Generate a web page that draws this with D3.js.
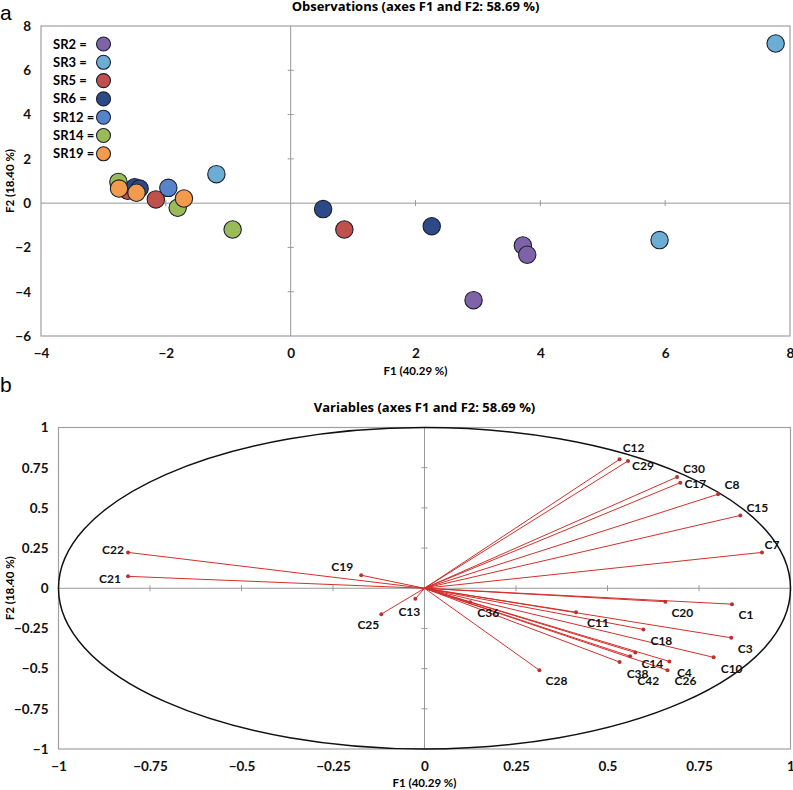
<!DOCTYPE html>
<html>
<head>
<meta charset="utf-8">
<script src="https://cdn.jsdelivr.net/npm/d3@7"></script>
<style>
  body { margin: 0; background: #fff; }
  text { font-family: Lato, "Open Sans", sans-serif; }
</style>
</head>
<body>
<div id="chart"></div>
<script>
// observations (panel a)
var groups = ["SR2", "SR3", "SR5", "SR6", "SR12", "SR14", "SR19"];
var groupColors = ["#7e63a8", "#6badd3", "#bf504b", "#2b4a87", "#5683c9", "#9bbb59", "#f29b4c"];
var obsGroup = ["SR2", "SR2", "SR2", "SR3", "SR3", "SR3", "SR5", "SR5", "SR5",
                "SR6", "SR6", "SR6", "SR6", "SR12", "SR14", "SR14", "SR14", "SR19", "SR19", "SR19"];
var obsF1 = [3.72, 3.79, 2.93, -1.19, 5.91, 7.77, -2.61, -2.16, 0.86,
             -2.50, -2.42, 0.52, 2.26, -1.96, -2.76, -1.81, -0.93, -2.75, -2.47, -1.71];
var obsF2 = [-1.91, -2.33, -4.38, 1.31, -1.67, 7.21, 0.56, 0.17, -1.19,
             0.72, 0.66, -0.27, -1.04, 0.69, 0.96, -0.21, -1.19, 0.66, 0.47, 0.21];
var obsTicksX = [-4, -2, 0, 2, 4, 6, 8];
var obsTicksY = [-6, -4, -2, 0, 2, 4, 6, 8];

// variables (panel b)
var varNames = ["C12", "C29", "C30", "C17", "C8", "C15", "C7", "C20", "C1", "C11", "C18", "C3", "C10",
                "C14", "C4", "C26", "C38", "C42", "C28", "C36", "C13", "C25", "C19", "C22", "C21"];
var varF1 = [0.533, 0.556, 0.690, 0.699, 0.802, 0.863, 0.922, 0.658, 0.840, 0.414, 0.598, 0.838, 0.790,
             0.576, 0.669, 0.664, 0.533, 0.562, 0.314, 0.125, -0.025, -0.118, -0.173, -0.810, -0.810];
var varF2 = [0.802, 0.792, 0.692, 0.657, 0.585, 0.453, 0.223, -0.084, -0.099, -0.149, -0.256, -0.308, -0.430,
             -0.400, -0.455, -0.510, -0.459, -0.423, -0.510, -0.087, -0.066, -0.161, 0.081, 0.223, 0.074];
var varTicks = [-1, -0.75, -0.5, -0.25, 0, 0.25, 0.5, 0.75, 1];

// label placement (pixels from the arrow tip)
var labelDx = [14, 15, 17, 15, 14, 17, 10, 17, 14, 22, 18, 14, 18, 17, 15, 18, 18, 18, 17, 18, -6, -13, -19, -15, -18];
var labelDy = [-12, 5, -8, 1, -9, -8, -8, 11, 11, 11, 11, 11, 11, 11, 11, 11, 12, 25, 11, 11, 13, 11, -8, -3, 2];

var width = 793, height = 790;
var svg = d3.select("#chart").append("svg")
    .attr("width", width)
    .attr("height", height);

var fmt = d3.format("~g");

function drawFrame(x, y, xticks, yticks, tickLen, xLabelY, yLabelX, xTickY, title, titleY, letter, letterY) {
    var g = svg.append("g");
    var x0 = x.range()[0], x1 = x.range()[1];
    var y0 = y.range()[0], y1 = y.range()[1];

    g.append("rect")
        .attr("x", x0).attr("y", y1)
        .attr("width", x1 - x0).attr("height", y0 - y1)
        .attr("fill", "none")
        .attr("stroke", "#a0a0a0")
        .attr("stroke-width", 1.2);

    // zero lines
    g.append("line")
        .attr("x1", x0).attr("x2", x1)
        .attr("y1", y(0)).attr("y2", y(0))
        .attr("stroke", "#999").attr("stroke-width", 1);
    g.append("line")
        .attr("x1", x(0)).attr("x2", x(0))
        .attr("y1", y0).attr("y2", y1)
        .attr("stroke", "#999").attr("stroke-width", 1);

    // small ticks on the zero lines
    g.selectAll(".xt")
        .data(xticks.filter(function(d) { return d != 0 && d != x.domain()[0] && d != x.domain()[1]; }))
        .enter().append("line")
        .attr("x1", function(d) { return x(d); })
        .attr("x2", function(d) { return x(d); })
        .attr("y1", y(0) - tickLen).attr("y2", y(0) + tickLen)
        .attr("stroke", "#999");
    g.selectAll(".yt")
        .data(yticks.filter(function(d) { return d != 0 && d != y.domain()[0] && d != y.domain()[1]; }))
        .enter().append("line")
        .attr("x1", x(0) - tickLen).attr("x2", x(0) + tickLen)
        .attr("y1", function(d) { return y(d); })
        .attr("y2", function(d) { return y(d); })
        .attr("stroke", "#999");

    // tick labels
    var xAxis = d3.axisBottom(x).tickValues(xticks).tickSize(0).tickPadding(0).tickFormat(fmt);
    g.append("g")
        .attr("transform", "translate(0," + xTickY + ")")
        .call(xAxis)
        .call(function(a) { a.select(".domain").remove(); })
        .selectAll("text")
        .attr("dy", "0.35em")
        .style("font-size", "13.5px")
        .style("font-weight", "bold")
        .attr("fill", "#111");

    var yAxis = d3.axisLeft(y).tickValues(yticks).tickSize(0).tickPadding(0).tickFormat(fmt);
    g.append("g")
        .attr("transform", "translate(" + (x0 - 10) + ",0)")
        .call(yAxis)
        .call(function(a) { a.select(".domain").remove(); })
        .selectAll("text")
        .style("font-size", "13.5px")
        .style("font-weight", "bold")
        .attr("fill", "#111");

    // axis titles
    g.append("text")
        .attr("x", (x0 + x1) / 2).attr("y", xLabelY)
        .attr("text-anchor", "middle")
        .style("font-size", "11.5px").style("font-weight", "bold")
        .text("F1 (40.29 %)");
    g.append("text")
        .attr("transform", "translate(" + yLabelX + "," + ((y0 + y1) / 2) + ") rotate(-90)")
        .attr("text-anchor", "middle")
        .style("font-size", "11.5px").style("font-weight", "bold")
        .text("F2 (18.40 %)");

    g.append("text")
        .attr("x", (x0 + x1) / 2).attr("y", titleY)
        .attr("text-anchor", "middle")
        .style("font-family", "'Open Sans', Lato, sans-serif")
        .style("font-size", "13px").style("font-weight", "bold")
        .text(title);

    g.append("text")
        .attr("x", 0).attr("y", letterY)
        .style("font-family", "'Liberation Sans', Arial, sans-serif")
        .style("font-size", "21px")
        .text(letter);
    return g;
}

// ---- panel a ----
var xA = d3.scaleLinear().domain([-4, 8]).range([41, 790]);
var yA = d3.scaleLinear().domain([-6, 8]).range([336, 26]);
var color = d3.scaleOrdinal().domain(groups).range(groupColors);

drawFrame(xA, yA, obsTicksX, obsTicksY, 3, 375, 14, 353,
    "Observations (axes F1 and F2: 58.69 %)", 11, "a", 20);

var obs = obsF1.map(function(d, i) {
    return { g: obsGroup[i], f1: d, f2: obsF2[i] };
});

svg.append("g")
    .selectAll("circle")
    .data(obs)
    .enter()
    .append("circle")
    .attr("cx", function(d) { return xA(d.f1); })
    .attr("cy", function(d) { return yA(d.f2); })
    .attr("r", 8.7)
    .attr("fill", function(d) { return color(d.g); })
    .attr("stroke", "#1b1f2e")
    .attr("stroke-width", 1.1);

// legend
var legend = svg.append("g").attr("transform", "translate(53,44)");
var items = legend.selectAll("g")
    .data(groups)
    .enter().append("g")
    .attr("transform", function(d, i) { return "translate(0," + (i * 18.3) + ")"; });
items.append("text")
    .attr("y", 4.5)
    .style("font-size", "13px").style("font-weight", "bold")
    .text(function(d) { return d + " ="; });
items.append("circle")
    .attr("cx", 50.5)
    .attr("r", 7)
    .attr("fill", function(d) { return color(d); })
    .attr("stroke", "#1b1f2e")
    .attr("stroke-width", 1.1);

// ---- panel b ----
var xB = d3.scaleLinear().domain([-1, 1]).range([58.5, 790.5]);
var yB = d3.scaleLinear().domain([-1, 1]).range([749, 427.5]);

drawFrame(xB, yB, varTicks, varTicks, 3, 787, 14, 766,
    "Variables (axes F1 and F2: 58.69 %)", 412, "b", 392);

// correlation circle
svg.append("ellipse")
    .attr("cx", xB(0)).attr("cy", yB(0))
    .attr("rx", xB(1) - xB(0)).attr("ry", yB(0) - yB(1))
    .attr("fill", "none")
    .attr("stroke", "#111")
    .attr("stroke-width", 1.5);

var vars = varNames.map(function(d, i) {
    return { name: d, f1: varF1[i], f2: varF2[i], dx: labelDx[i], dy: labelDy[i] };
});

var vg = svg.append("g");
vg.selectAll("line")
    .data(vars)
    .enter().append("line")
    .attr("x1", xB(0)).attr("y1", yB(0))
    .attr("x2", function(d) { return xB(d.f1); })
    .attr("y2", function(d) { return yB(d.f2); })
    .attr("stroke", "#d2302c")
    .attr("stroke-width", 1);
vg.selectAll("circle")
    .data(vars)
    .enter().append("circle")
    .attr("cx", function(d) { return xB(d.f1); })
    .attr("cy", function(d) { return yB(d.f2); })
    .attr("r", 2)
    .attr("fill", "#b8332f");
vg.selectAll("text")
    .data(vars)
    .enter().append("text")
    .attr("x", function(d) { return xB(d.f1) + d.dx; })
    .attr("y", function(d) { return yB(d.f2) + d.dy; })
    .attr("dy", "0.35em")
    .attr("text-anchor", "middle")
    .style("font-size", "12px").style("font-weight", "bold")
    .attr("fill", "#111")
    .text(function(d) { return d.name; });
</script>
</body>
</html>
